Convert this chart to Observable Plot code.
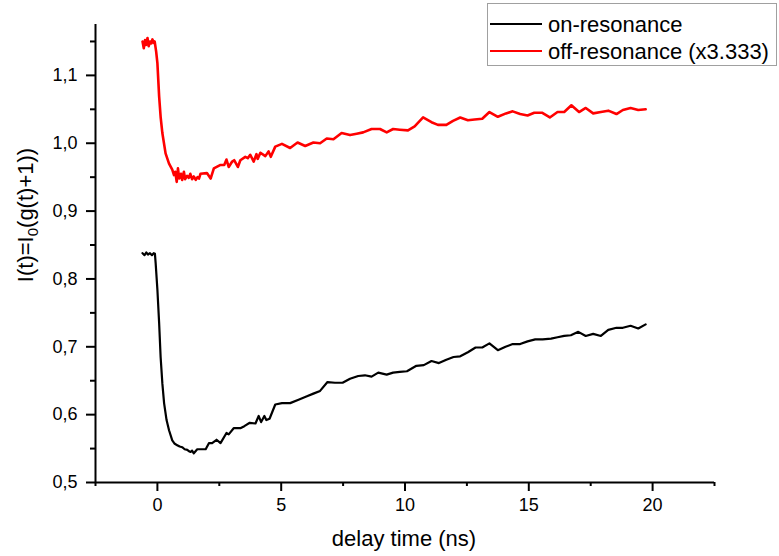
<!DOCTYPE html>
<html><head><meta charset="utf-8">
<script src="https://cdn.jsdelivr.net/npm/d3@7"></script>
<script src="https://cdn.jsdelivr.net/npm/@observablehq/plot@0.6"></script>
<style>
body{margin:0;background:#fff;}
#chart{position:relative;width:779px;height:556px;}
</style>
</head><body><div id="chart"></div>
<script>
const onTime = [-0.6,-0.52,-0.45,-0.38,-0.3,-0.22,-0.15,-0.1,-0.07,0,0.07,0.13,0.2,0.27,0.37,0.47,0.6,0.7,0.8,0.9,1.0,1.1,1.21,1.28,1.34,1.4,1.47,1.54,1.61,1.81,1.95,2.08,2.21,2.39,2.55,2.79,2.88,3.08,3.35,3.51,3.73,3.96,4.09,4.19,4.32,4.4,4.53,4.76,5.03,5.36,5.7,6.04,6.3,6.57,6.87,7.17,7.48,7.78,8.11,8.38,8.65,8.92,9.26,9.52,9.79,10.08,10.46,10.76,11.07,11.37,11.67,11.96,12.23,12.54,12.85,13.12,13.41,13.75,14.06,14.35,14.65,14.95,15.26,15.56,15.9,16.16,16.43,16.7,17.0,17.3,17.6,17.91,18.21,18.54,18.8,19.11,19.42,19.72];
const onValue = [0.838,0.835,0.839,0.836,0.838,0.835,0.838,0.837,0.823,0.784,0.735,0.685,0.646,0.617,0.592,0.577,0.562,0.557,0.555,0.553,0.552,0.549,0.548,0.546,0.545,0.547,0.543,0.546,0.549,0.549,0.549,0.558,0.558,0.563,0.558,0.573,0.571,0.580,0.580,0.583,0.588,0.587,0.598,0.589,0.598,0.592,0.594,0.615,0.617,0.617,0.622,0.627,0.631,0.635,0.648,0.647,0.647,0.653,0.657,0.658,0.656,0.662,0.659,0.662,0.663,0.664,0.672,0.673,0.679,0.676,0.681,0.685,0.686,0.692,0.699,0.699,0.705,0.695,0.700,0.704,0.704,0.708,0.711,0.711,0.712,0.714,0.716,0.717,0.722,0.716,0.719,0.716,0.725,0.728,0.728,0.731,0.727,0.733];
const offTime = [-0.6,-0.55,-0.5,-0.45,-0.4,-0.35,-0.3,-0.25,-0.2,-0.15,-0.11,-0.05,0,0.07,0.13,0.2,0.33,0.47,0.6,0.67,0.72,0.78,0.83,0.88,0.95,1.0,1.07,1.12,1.2,1.27,1.33,1.4,1.47,1.55,1.62,1.68,1.74,2.0,2.15,2.28,2.55,2.7,2.79,2.88,3.02,3.1,3.25,3.35,3.55,3.65,3.75,3.89,4.0,4.05,4.16,4.36,4.49,4.58,4.76,5.03,5.36,5.66,5.97,6.3,6.57,6.84,7.11,7.44,7.78,8.05,8.31,8.65,8.99,9.26,9.52,9.79,10.12,10.39,10.73,11.07,11.33,11.67,11.94,12.23,12.54,12.81,13.12,13.41,13.75,14.08,14.35,14.65,14.95,15.22,15.53,15.85,16.16,16.43,16.72,17.03,17.3,17.6,17.91,18.21,18.54,18.8,19.11,19.42,19.72];
const offValue = [1.15,1.14,1.152,1.145,1.155,1.143,1.15,1.147,1.153,1.148,1.15,1.135,1.118,1.069,1.039,1.015,0.985,0.97,0.961,0.953,0.958,0.943,0.963,0.948,0.955,0.946,0.958,0.947,0.952,0.949,0.955,0.947,0.951,0.946,0.95,0.948,0.955,0.956,0.948,0.963,0.968,0.968,0.976,0.965,0.973,0.975,0.965,0.975,0.980,0.978,0.983,0.973,0.984,0.977,0.986,0.981,0.988,0.98,0.995,0.999,0.993,1.001,0.996,1.001,1.0,1.007,1.006,1.015,1.012,1.014,1.016,1.021,1.021,1.016,1.021,1.02,1.019,1.025,1.038,1.031,1.027,1.027,1.033,1.038,1.034,1.035,1.036,1.046,1.039,1.044,1.047,1.043,1.041,1.045,1.045,1.038,1.046,1.046,1.056,1.046,1.052,1.044,1.046,1.048,1.043,1.049,1.052,1.049,1.05];

const seriesNames = ["on-resonance", "off-resonance (x3.333)"];
const seriesColors = ["#000000", "#ff0000"];
const xDomain = [-2.5, 22.5];
const yDomain = [0.5, 1.175];
const xMajorTicks = [0, 5, 10, 15, 20];
const xMinorTicks = [-2.5, 2.5, 7.5, 12.5, 17.5, 22.5];
const yMajorTicks = [0.5, 0.6, 0.7, 0.8, 0.9, 1.0, 1.1];
const yMinorTicks = [0.55, 0.65, 0.75, 0.85, 0.95, 1.05, 1.15];
const xLabel = "delay time (ns)";
const yLabelParts = ["I(t)=I", "0", "(g(t)+1))"];

const zip = (t, v) => t.slice(0, Math.min(t.length, v.length)).map((d, i) => ({t: d, v: v[i]}));
const onData = zip(onTime, onValue);
const offData = zip(offTime, offValue);
const fmt = d => d.toFixed(1).replace(".", ",");
const FONT = "'Liberation Sans', Arial, sans-serif";

const W = 779, H = 556;
const plot = Plot.plot({
  width: W, height: H,
  marginLeft: 95, marginRight: 65, marginTop: 24, marginBottom: 74,
  style: {fontFamily: FONT, fontSize: "18px", color: "#000", background: "#fff"},
  x: {domain: xDomain},
  y: {domain: yDomain},
  marks: [
    Plot.axisX(xMinorTicks, {tickSize: 4, tickFormat: () => "", label: null, strokeWidth: 2}),
    Plot.axisX(xMajorTicks, {tickSize: 9, tickPadding: 7, tickFormat: d => String(d), fontSize: 18, label: null, strokeWidth: 2}),
    Plot.axisY(yMinorTicks, {tickSize: 5, tickFormat: () => "", label: null, strokeWidth: 2}),
    Plot.axisY(yMajorTicks, {tickSize: 9, tickPadding: 9, tickFormat: fmt, fontSize: 18, label: null, strokeWidth: 2}),
    Plot.ruleX([xDomain[0]], {stroke: "#000", strokeWidth: 2}),
    Plot.ruleY([yDomain[0]], {stroke: "#000", strokeWidth: 2}),
    Plot.line(onData, {x: "t", y: "v", stroke: seriesColors[0], strokeWidth: 2.2, strokeLinejoin: "round"}),
    Plot.line(offData, {x: "t", y: "v", stroke: seriesColors[1], strokeWidth: 2.6, strokeLinejoin: "round"})
  ]
});
document.getElementById("chart").appendChild(plot);

const svg = d3.select(plot);
// x axis title
svg.append("text")
  .attr("x", 404).attr("y", 546)
  .attr("text-anchor", "middle")
  .attr("font-family", FONT).attr("font-size", 22).attr("fill", "#000")
  .text(xLabel);
// y axis title with subscript
const yl = svg.append("text")
  .attr("transform", "translate(33,215) rotate(-90)")
  .attr("text-anchor", "middle")
  .attr("font-family", FONT).attr("font-size", 22).attr("fill", "#000");
yl.append("tspan").text(yLabelParts[0]);
yl.append("tspan").attr("font-size", 15).attr("dy", 5).text(yLabelParts[1]);
yl.append("tspan").attr("dy", -5).text(yLabelParts[2]);

// legend
const lg = svg.append("g").attr("text-anchor", "start");
lg.append("rect").attr("x", 487.5).attr("y", 3.5).attr("width", 289).attr("height", 62)
  .attr("fill", "#fff").attr("stroke", "#a0a0a0").attr("stroke-width", 1);
seriesNames.forEach((name, i) => {
  const cy = 24 + i * 27;
  lg.append("line").attr("x1", 490).attr("x2", 542).attr("y1", cy).attr("y2", cy)
    .attr("stroke", seriesColors[i]).attr("stroke-width", 2);
  lg.append("text").attr("x", 548).attr("y", cy + 7.5)
    .attr("text-anchor", "start")
    .attr("font-family", FONT).attr("font-size", 22).attr("fill", "#000")
    .text(name);
});
</script>
</body></html>
